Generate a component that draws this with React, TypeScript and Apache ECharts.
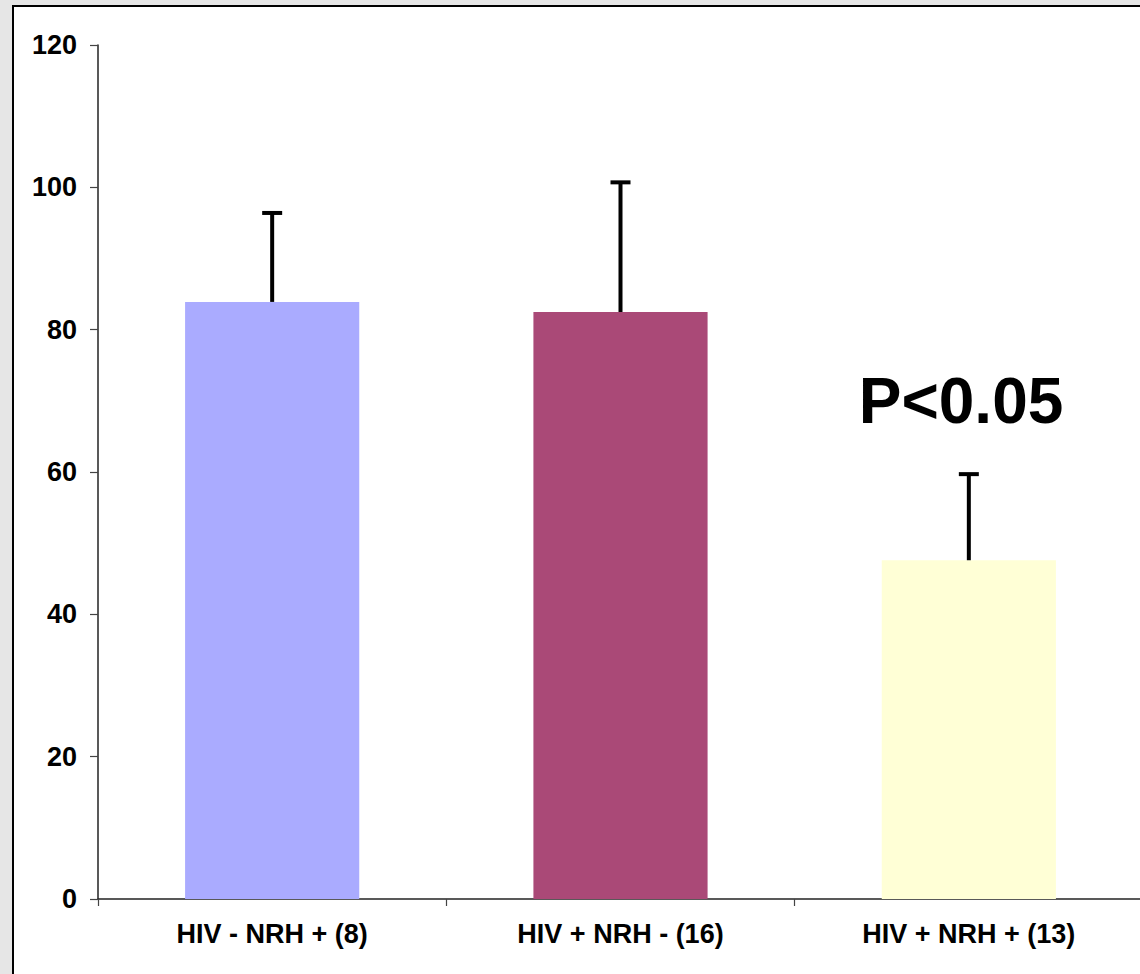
import React, { useEffect, useRef } from "react";
import * as echarts from "echarts";

const categories = ["HIV - NRH + (8)", "HIV + NRH - (16)", "HIV + NRH + (13)"];
const means = [83.9, 82.5, 47.6];
const upperErrors = [96.4, 100.7, 59.7];
const barColors = ["#aaabff", "#aa4977", "#ffffd6"];
const yTicks = { min: 0, max: 120, interval: 20 };
const annotation = "P<0.05";

const FONT = "'Liberation Sans', Arial, sans-serif";

export default function App() {
  const ref = useRef<HTMLDivElement>(null);
  useEffect(() => {
    if (!ref.current) return;
    const chart = echarts.init(ref.current, undefined, { renderer: "svg" });
    chart.setOption({
      animation: false,
      grid: { left: 98, top: 45, bottom: 75, right: 3, containLabel: false },
      xAxis: {
        type: "category",
        data: categories,
        axisLine: { show: true, lineStyle: { color: "#222", width: 1.5 } },
        axisTick: { show: true, length: 7, alignWithLabel: false, lineStyle: { color: "#444", width: 1.2 } },
        axisLabel: {
          margin: 21,
          fontFamily: FONT,
          fontWeight: "bold",
          fontSize: 27,
          color: "#000",
        },
        splitLine: { show: false },
      },
      yAxis: {
        type: "value",
        min: yTicks.min,
        max: yTicks.max,
        interval: yTicks.interval,
        axisLine: { show: true, lineStyle: { color: "#222", width: 1.5 } },
        axisTick: { show: true, length: 8, inside: false, lineStyle: { color: "#444", width: 1.2 } },
        axisLabel: {
          margin: 21,
          fontFamily: FONT,
          fontWeight: "bold",
          fontSize: 27,
          color: "#000",
        },
        splitLine: { show: false },
      },
      series: [
        {
          type: "bar",
          barWidth: "50%",
          data: means.map((v, i) => ({ value: v, itemStyle: { color: barColors[i] } })),
          z: 2,
        },
        {
          type: "custom",
          z: 3,
          data: means.map((m, i) => [i, m, upperErrors[i]]),
          renderItem: (params: any, api: any) => {
            const x = api.value(0);
            const low = api.coord([x, api.value(1)]);
            const high = api.coord([x, api.value(2)]);
            const half = 10;
            return {
              type: "group",
              children: [
                {
                  type: "line",
                  shape: { x1: low[0], y1: low[1], x2: high[0], y2: high[1] },
                  style: { stroke: "#000", lineWidth: 4 },
                },
                {
                  type: "line",
                  shape: { x1: high[0] - half, y1: high[1], x2: high[0] + half, y2: high[1] },
                  style: { stroke: "#000", lineWidth: 4 },
                },
              ],
            };
          },
        },
      ],
      graphic: [
        {
          type: "text",
          x: 961,
          y: 401,
          style: {
            text: annotation,
            fontFamily: FONT,
            fontWeight: "bold",
            fontSize: 64,
            fill: "#000",
            align: "center",
            verticalAlign: "middle",
          },
        },
      ],
    });
    return () => chart.dispose();
  }, []);

  return (
    <div
      style={{
        position: "fixed",
        left: 0,
        top: 0,
        width: 1140,
        height: 974,
        background: "#e6e6e6",
        overflow: "hidden",
      }}
    >
      <div
        style={{
          position: "absolute",
          left: 12,
          top: 5,
          width: 1200,
          height: 1100,
          background: "#fff",
          borderLeft: "2px solid #000",
          borderTop: "2px solid #000",
        }}
      />
      <div
        ref={ref}
        style={{ position: "absolute", left: 0, top: 0, width: 1146, height: 974 }}
      />
    </div>
  );
}
